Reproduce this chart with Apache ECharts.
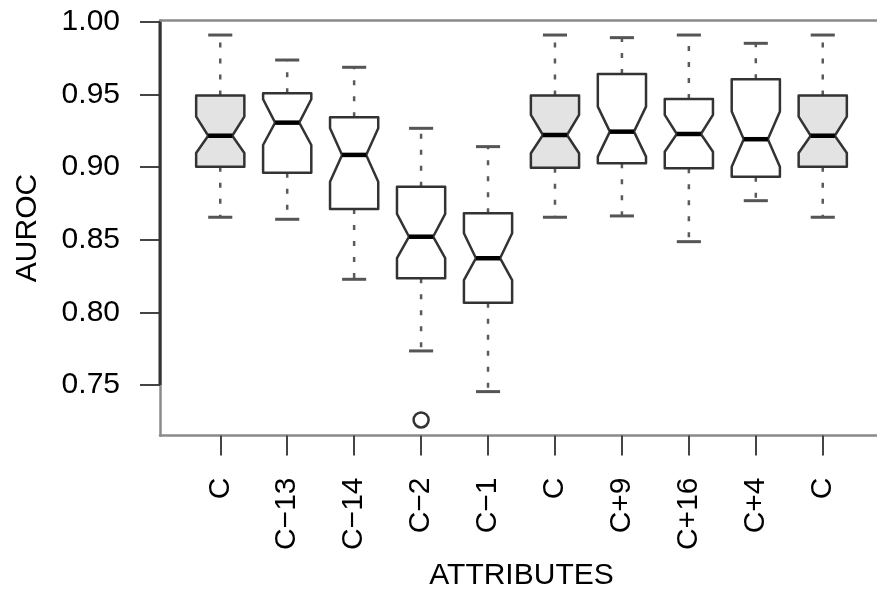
<!DOCTYPE html>
<html>
<head>
<meta charset="utf-8">
<script src="https://cdn.jsdelivr.net/npm/echarts@6/dist/echarts.min.js"></script>
<style>
html,body{margin:0;padding:0;background:#fff;}
#chart{width:877px;height:590px;}
</style>
</head>
<body>
<div id="chart"></div>
<script>
// ---- data ----
const categories  = ['C', 'C\u221213', 'C\u221214', 'C\u22122', 'C\u22121', 'C', 'C+9', 'C+16', 'C+4', 'C'];
const whiskerLow  = [0.8654, 0.8640, 0.8227, 0.7734, 0.7454, 0.8654, 0.8663, 0.8486, 0.8768, 0.8654];
const q1          = [0.9002, 0.8961, 0.8711, 0.8234, 0.8066, 0.8995, 0.9025, 0.8991, 0.8933, 0.9002];
const notchLow    = [0.9096, 0.9151, 0.8899, 0.8372, 0.8222, 0.9094, 0.9071, 0.9105, 0.9002, 0.9096];
const median      = [0.9215, 0.9305, 0.9083, 0.8520, 0.8372, 0.9220, 0.9243, 0.9227, 0.9191, 0.9215];
const notchHigh   = [0.9346, 0.9466, 0.9266, 0.8677, 0.8544, 0.9358, 0.9415, 0.9358, 0.9381, 0.9346];
const q3          = [0.9491, 0.9507, 0.9342, 0.8864, 0.8681, 0.9491, 0.9640, 0.9468, 0.9604, 0.9491];
const whiskerHigh = [0.9908, 0.9736, 0.9686, 0.9266, 0.9140, 0.9908, 0.9890, 0.9908, 0.9851, 0.9908];
const outliers    = [[4, 0.7259]];
const yTicks      = [0.75, 0.80, 0.85, 0.90, 0.95, 1.00];
const xTicks      = [1, 2, 3, 4, 5, 6, 7, 8, 9, 10];

// ---- layout / style ----
const X_MIN = 0.1, X_MAX = 10.9;
const Y_MIN = 0.7152, Y_MAX = 1.0008;
const HALF = 0.36;
const FONT = 'Liberation Sans, Arial, Helvetica, sans-serif';
const FRAME = { color: '#8a8a8a', width: 2.5 };

const boxData = xTicks.map((x, i) => [x, whiskerLow[i], q1[i], notchLow[i], median[i], notchHigh[i], q3[i], whiskerHigh[i]]);

function renderBox(params, api) {
  const x = api.value(0);
  const lo = api.value(1), b1 = api.value(2), nl = api.value(3), md = api.value(4),
        nh = api.value(5), b3 = api.value(6), hi = api.value(7);
  const p = (dx, v) => api.coord([x + dx, v]);
  const fill = categories[params.dataIndex] === 'C' ? '#e3e3e3' : '#ffffff';
  const dash = { stroke: '#5a5a5a', lineWidth: 2.5, lineDash: [5, 11] };
  const staple = { stroke: '#555', lineWidth: 3 };
  return {
    type: 'group',
    children: [
      { type: 'line', shape: { x1: p(0, b3)[0], y1: p(0, b3)[1], x2: p(0, hi)[0], y2: p(0, hi)[1] }, style: dash },
      { type: 'line', shape: { x1: p(0, b1)[0], y1: p(0, b1)[1], x2: p(0, lo)[0], y2: p(0, lo)[1] }, style: dash },
      { type: 'line', shape: { x1: p(-HALF / 2, hi)[0], y1: p(0, hi)[1], x2: p(HALF / 2, hi)[0], y2: p(0, hi)[1] }, style: staple },
      { type: 'line', shape: { x1: p(-HALF / 2, lo)[0], y1: p(0, lo)[1], x2: p(HALF / 2, lo)[0], y2: p(0, lo)[1] }, style: staple },
      { type: 'polygon', shape: { points: [
          p(-HALF, b1), p(-HALF, nl), p(-HALF / 2, md), p(-HALF, nh), p(-HALF, b3),
          p(HALF, b3), p(HALF, nh), p(HALF / 2, md), p(HALF, nl), p(HALF, b1)
        ] }, style: { fill: fill, stroke: '#333', lineWidth: 2.5, lineJoin: 'round' } },
      { type: 'line', shape: { x1: p(-HALF / 2, md)[0], y1: p(0, md)[1], x2: p(HALF / 2, md)[0], y2: p(0, md)[1] }, style: { stroke: '#000', lineWidth: 4.5 } }
    ]
  };
}

const chart = echarts.init(document.getElementById('chart'), null, { renderer: 'canvas' });
chart.setOption({
  animation: false,
  backgroundColor: '#fff',
  grid: { left: 160, top: 20.5, width: 723, height: 415, outerBoundsMode: 'none', containLabel: false, show: false },
  xAxis: [{
    type: 'value', min: X_MIN, max: X_MAX, position: 'bottom',
    name: 'ATTRIBUTES', nameLocation: 'middle', nameGap: 125,
    nameTextStyle: { color: '#000', fontSize: 30, fontFamily: FONT },
    axisLine: { show: true, lineStyle: FRAME },
    splitLine: { show: false },
    axisTick: { show: true, length: 20, customValues: xTicks, lineStyle: { color: '#444', width: 2 } },
    axisLabel: { customValues: xTicks, rotate: 90, margin: 42, color: '#000', fontSize: 30, fontFamily: FONT,
      formatter: v => categories[Math.round(v) - 1] }
  }, {
    type: 'value', min: X_MIN, max: X_MAX, position: 'top',
    axisLine: { show: true, lineStyle: FRAME },
    axisTick: { show: false }, axisLabel: { show: false }, splitLine: { show: false }
  }],
  yAxis: {
    type: 'value', min: Y_MIN, max: Y_MAX,
    name: 'AUROC', nameLocation: 'middle', nameGap: 117,
    nameTextStyle: { color: '#000', fontSize: 30, fontFamily: FONT },
    axisLine: { show: true, lineStyle: FRAME },
    splitLine: { show: false },
    axisTick: { show: true, length: 20, customValues: yTicks, lineStyle: { color: '#444', width: 2 } },
    axisLabel: { customValues: yTicks, margin: 40, color: '#000', fontSize: 30, fontFamily: FONT,
      formatter: v => v.toFixed(2) }
  },
  series: [
    {
      type: 'line', silent: true, symbol: 'none', z: 3,
      data: [[X_MIN, yTicks[0]], [X_MIN, yTicks[yTicks.length - 1]]],
      lineStyle: { color: '#333', width: 3 }
    },
    {
      type: 'custom', renderItem: renderBox, data: boxData,
      encode: { x: 0, y: [1, 2, 3, 4, 5, 6, 7] }, z: 4
    },
    {
      type: 'scatter', data: outliers, symbol: 'circle', symbolSize: 15,
      itemStyle: { color: '#ffffff', borderColor: '#333', borderWidth: 2.5, opacity: 1 }, z: 5
    }
  ]
});
</script>
</body>
</html>
